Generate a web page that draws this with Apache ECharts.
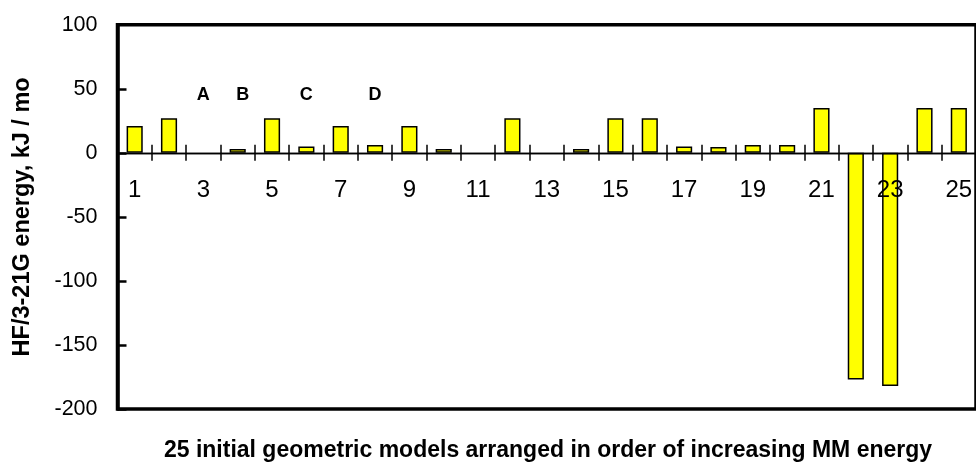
<!DOCTYPE html>
<html>
<head>
<meta charset="utf-8">
<script src="https://cdn.jsdelivr.net/npm/echarts@6/dist/echarts.min.js"></script>
<style>
html,body{margin:0;padding:0;background:#fff;}
#chart{width:976px;height:463px;}
</style>
</head>
<body>
<div id="chart"></div>
<script>
// ---- data ----
var categories = ['1','2','3','4','5','6','7','8','9','10','11','12','13','14','15','16','17','18','19','20','21','22','23','24','25'];
var energies = [21, 27, null, 3, 27, 5, 21, 6, 21, 3, null, 27, null, 3, 27, 27, 5, 4.5, 6, 6, 35, -177, -182, 35, 35];
var markerLetters = ['A', 'B', 'C', 'D'];
var markerCategories = ['3', '4', '6', '8'];
var markerLevel = 45;
var yTicks = { min: -200, max: 100, step: 50 };
var yTitle = 'HF/3-21G energy, kJ / mo';
var xTitle = '25 initial geometric models arranged in order of increasing MM energy';

var FONT = "'Liberation Sans', Arial, sans-serif";
var chart = echarts.init(document.getElementById('chart'), null, {renderer: 'canvas'});

var markerData = markerCategories.map(function (c, i) {
  var item = { name: markerLetters[i], value: [c, markerLevel] };
  if (markerLetters[i] === 'B') { item.label = { offset: [5, 0] }; }
  return item;
});

var option = {
  animation: false,
  backgroundColor: '#fff',
  grid: {
    left: 117.5, top: 24.7, right: -1, bottom: 54,
    show: true, borderColor: '#000', borderWidth: 3.5, backgroundColor: 'transparent'
  },
  xAxis: [{
    type: 'category',
    data: categories,
    z: 10,
    axisLine: { show: true, onZero: true, onZeroAxisIndex: 0, lineStyle: { color: '#000', width: 1.3 } },
    axisTick: { show: true, interval: 0, length: 8, inside: false, lineStyle: { color: '#000', width: 1.5 } },
    axisLabel: { interval: 1, fontSize: 24, margin: -231, color: '#000', fontFamily: FONT },
    splitLine: { show: false }
  }, {
    type: 'category',
    data: categories,
    position: 'top',
    z: 10,
    axisLine: { show: true, onZero: true, onZeroAxisIndex: 0, lineStyle: { color: '#000', width: 1.3 } },
    axisTick: { show: true, interval: 0, length: 8, inside: false, lineStyle: { color: '#000', width: 1.5 } },
    axisLabel: { show: false },
    splitLine: { show: false }
  }],
  yAxis: {
    type: 'value',
    min: yTicks.min, max: yTicks.max, interval: yTicks.step,
    name: yTitle,
    nameLocation: 'middle',
    nameRotate: 90,
    nameGap: 83,
    nameTextStyle: { fontSize: 23.5, fontWeight: 'bold', color: '#000', fontFamily: FONT },
    axisLine: { show: true, onZero: false, lineStyle: { color: '#000', width: 3.5 } },
    axisTick: { show: true, inside: true, length: 9, lineStyle: { color: '#000', width: 2.5 } },
    axisLabel: { fontSize: 21.5, margin: 20, color: '#000', fontFamily: FONT },
    splitLine: { show: false }
  },
  graphic: [{
    type: 'text',
    x: 548, y: 451,
    z: 100,
    style: {
      text: xTitle,
      align: 'center', verticalAlign: 'middle',
      fontSize: 23, fontWeight: 'bold', fill: '#000', fontFamily: FONT
    }
  }],
  series: [{
    type: 'bar',
    xAxisIndex: 0,
    data: energies,
    barWidth: '47%',
    itemStyle: { color: '#FFFF00', borderColor: '#000', borderWidth: 1.5 }
  }, {
    type: 'scatter',
    xAxisIndex: 0,
    data: markerData,
    symbolSize: 0,
    itemStyle: { opacity: 1 },
    label: {
      show: true, position: 'inside', formatter: '{b}',
      fontSize: 18, fontWeight: 'bold', color: '#000', fontFamily: FONT
    }
  }]
};
chart.setOption(option);
</script>
</body>
</html>
